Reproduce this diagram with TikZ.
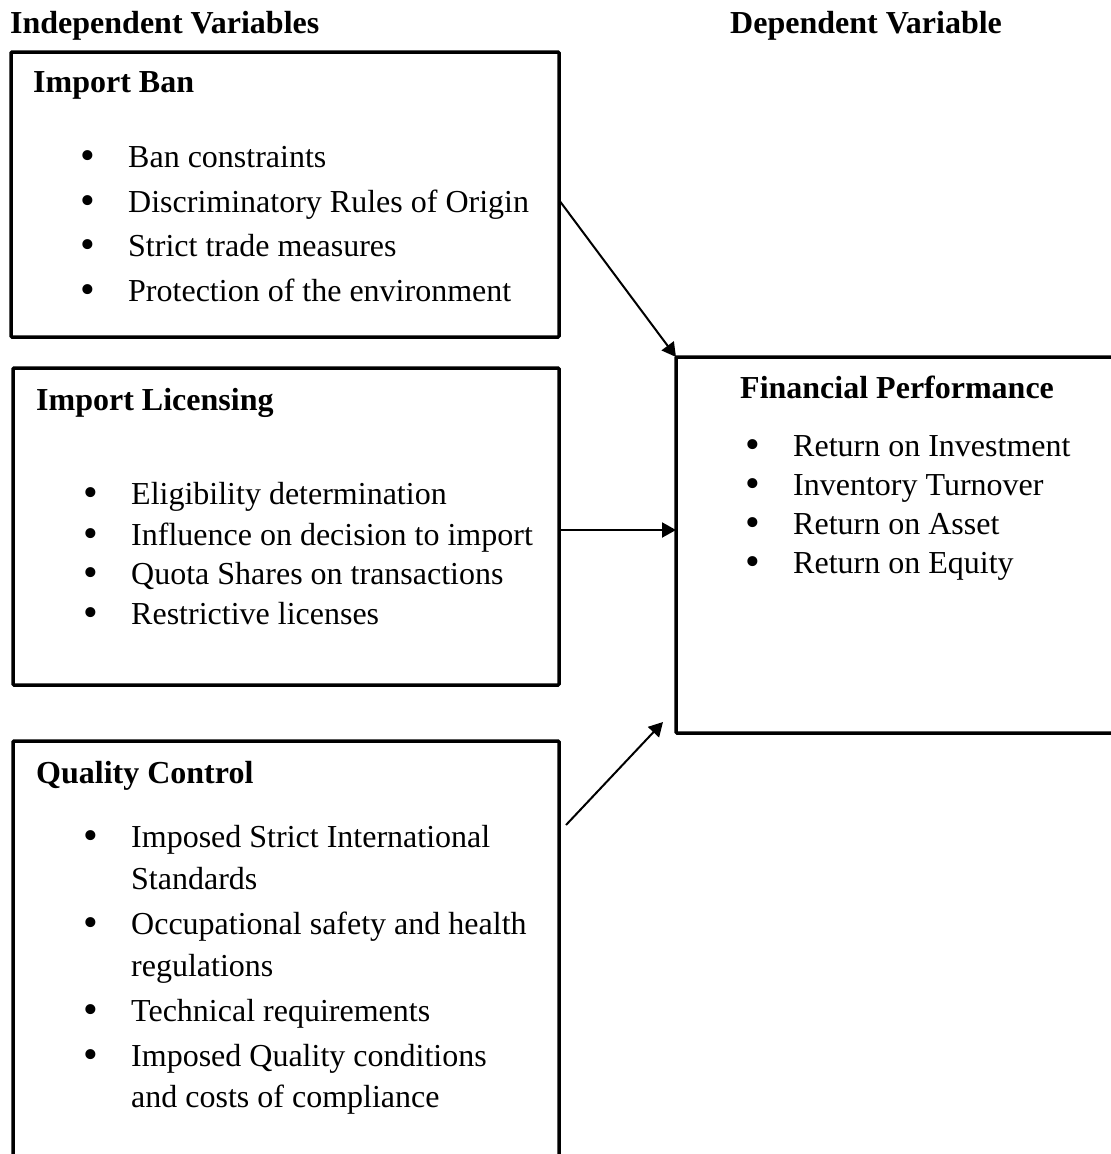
\documentclass[tikz,border=0pt]{standalone}
\usepackage{fontspec}
\setmainfont{Liberation Serif}
\usetikzlibrary{arrows.meta,calc}
\begin{document}
\begin{tikzpicture}[x=1pt,y=-1pt,
  box/.style={draw,line width=3.5pt,inner sep=0pt,outer sep=0pt,anchor=north west,rounded corners=1pt},
  txt/.style={anchor=base west,inner sep=0pt,font=\fontsize{32}{38}\selectfont},
  hd/.style={anchor=base west,inner sep=0pt,font=\fontsize{32}{38}\selectfont\bfseries},
  bul/.style={anchor=base,inner sep=0pt,yshift=-2pt,font=\fontsize{42}{48}\selectfont},
  arr/.style={line width=2pt,-{Triangle[length=14pt,width=15pt]}}]
\useasboundingbox (0,0) rectangle (1111,1154);
\clip (0,0) rectangle (1111,1154);
% headings
\node[hd] (indep) at (10,33) {Independent Variables};
\node[hd] (dep) at (730,33) {Dependent Variable};
% boxes
\node[box,minimum width=548pt,minimum height=285pt] (ban) at (11,52) {};
\node[box,minimum width=546pt,minimum height=317pt] (lic) at (13,368) {};
\node[box,minimum width=546pt,minimum height=500pt] (qc) at (13,741) {};
\node[box,minimum width=600pt,minimum height=376pt] (fp) at (676,357) {};
% Import Ban
\node[hd] (banT) at (33,92) {Import Ban};
\foreach \y/\t [count=\i] in {167/Ban constraints,212/Discriminatory Rules of Origin,256/Strict trade measures,301/Protection of the environment}{
  \node[bul] (banB\i) at (88,\y) {•};
  \node[txt] (banI\i) at (128,\y) {\t};
}
% Import Licensing
\node[hd] (licT) at (36,410) {Import Licensing};
\foreach \y/\t [count=\i] in {504/Eligibility determination,545/Influence on decision to import,584/Quota Shares on transactions,624/Restrictive licenses}{
  \node[bul] (licB\i) at (91,\y) {•};
  \node[txt] (licI\i) at (131,\y) {\t};
}
% Quality Control
\node[hd] (qcT) at (36,783) {Quality Control};
\foreach \y/\t [count=\i] in {847/Imposed Strict International,934/Occupational safety and health,1021/Technical requirements,1066/Imposed Quality conditions}{
  \node[bul] (qcB\i) at (91,\y) {•};
  \node[txt] (qcI\i) at (131,\y) {\t};
}
\node[txt] (qcC1) at (131,889) {Standards};
\node[txt] (qcC2) at (131,976) {regulations};
\node[txt] (qcC3) at (131,1107) {and costs of compliance};
% Financial Performance
\node[hd] (fpT) at (740,398) {Financial Performance};
\foreach \y/\t [count=\i] in {456/Return on Investment,495/Inventory Turnover,534/Return on Asset,573/Return on Equity}{
  \node[bul] (fpB\i) at (753,\y) {•};
  \node[txt] (fpI\i) at (793,\y) {\t};
}
% arrows
\draw[arr] ([yshift=-148pt]ban.north east) -- (fp.north west);
\draw[arr] (lic.east |- 0,530) -- (fp.west |- 0,530);
\draw[arr] ([shift={(7,84)}]qc.north east) -- ([shift={(-13,-11)}]fp.south west);
\end{tikzpicture}
\end{document}
